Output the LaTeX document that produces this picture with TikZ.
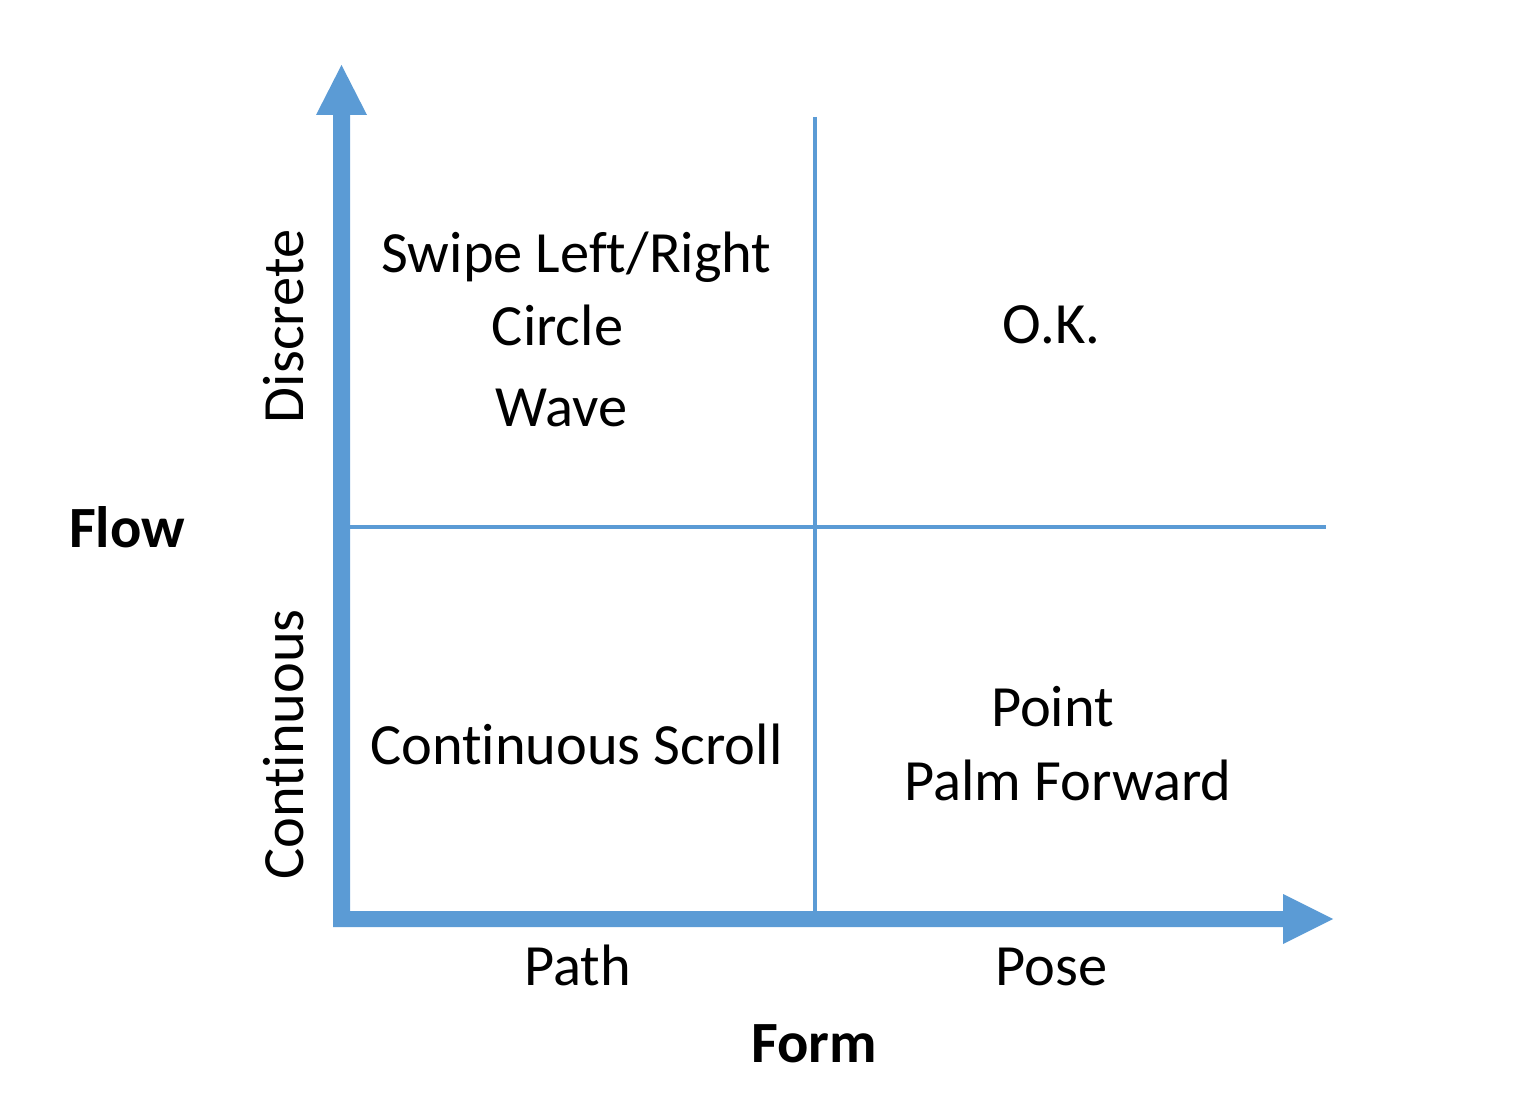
\documentclass[tikz,border=0pt]{standalone}
\usepackage{fontspec}
\setmainfont{Carlito}[RawFeature={-liga}]
\definecolor{axisblue}{HTML}{5B9BD5}
\begin{document}
\begin{tikzpicture}[x=0.75pt,y=-0.75pt,
  lbl/.style={inner sep=0pt,anchor=base,font=\fontsize{43.8}{52}\selectfont},
  blbl/.style={lbl,font=\fontsize{43.8}{52}\selectfont\bfseries},
  thin/.style={draw=axisblue,line width=2.6pt}]
\useasboundingbox (0,0) rectangle (1536,1112);
% axes
\coordinate (o) at (341.5,919);
\coordinate (ytip) at (341.5,65);
\coordinate (xtip) at (1333,919);
\fill[axisblue] (333,115) -- (333,927) -- (1283,927) -- (1283,944) -- (xtip) -- (1283,894) -- (1283,911) -- (350,911) -- (350,115) -- (367,115) -- (ytip) -- (316,115) -- cycle;
% grid lines
\coordinate (vtop) at (815,117);
\coordinate (vbot) at (815,911);
\coordinate (hl) at (350,527);
\coordinate (hr) at (1326,527);
\draw[thin] (vtop) -- (vbot);
\draw[thin] (hl) -- (hr);
% labels
\node[lbl] (swipe) at (576.5,273) {Swipe Left/Right};
\node[lbl] (circle) at (557.5,346) {Circle};
\node[lbl] (wave) at (561.5,427) {Wave};
\node[lbl] (ok) at (1051.5,344) {O.K.};
\node[lbl] (scroll) at (576.5,764) {Continuous Scroll};
\node[lbl] (point) at (1052.5,726) {Point};
\node[lbl] (palm) at (1068,800) {Palm Forward};
\node[lbl] (path) at (577.5,985) {Path};
\node[lbl] (pose) at (1051.5,985) {Pose};
\node[blbl] (form) at (814,1062) {Form};
\node[blbl] (flow) at (127,547) {Flow};
\node[lbl,rotate=90] (discrete) at (303,326.5) {Discrete};
\node[lbl,rotate=90] (continuous) at (303,744.5) {Continuous};
\end{tikzpicture}
\end{document}
